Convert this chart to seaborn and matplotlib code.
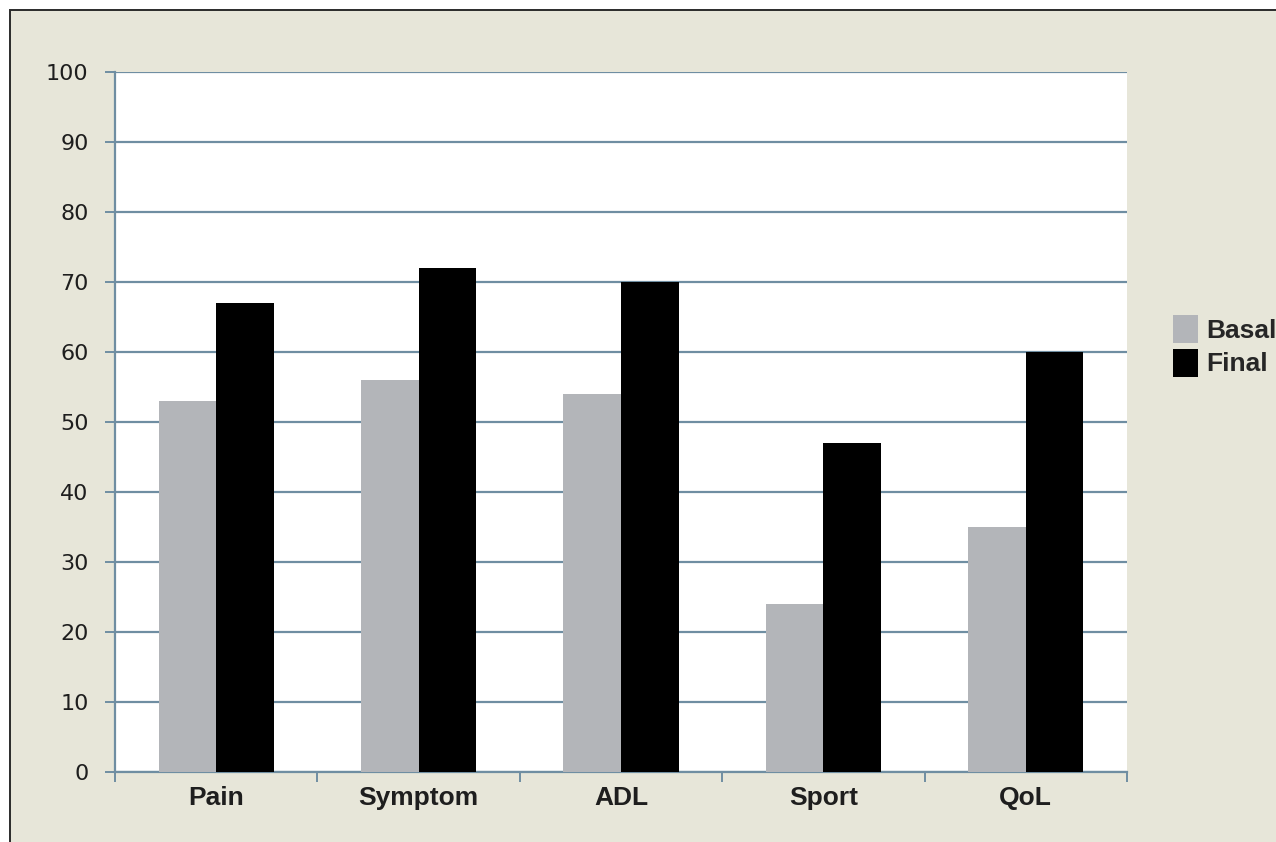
import matplotlib
matplotlib.use("Agg")
import matplotlib.pyplot as plt
import matplotlib.patches as mpatches
import pandas as pd
import seaborn as sns

# values
categories = ['Pain', 'Symptom', 'ADL', 'Sport', 'QoL']
basal = [53, 56, 54, 24, 35]
final = [67, 72, 70, 47, 60]
series = ['Basal', 'Final']
yticks = list(range(0, 101, 10))

df = pd.DataFrame({
    'cat': categories * 2,
    'grp': ['Basal'] * len(categories) + ['Final'] * len(categories),
    'val': basal + final,
})

sns.set_style('white')
plt.rcParams['font.family'] = ['DejaVu Sans']

fig = plt.figure(figsize=(12.76, 8.42), dpi=100, facecolor='white')
W, H = 1276, 842
# beige panel with dark border on left/top (cut off at right/bottom)
fig.add_artist(mpatches.Rectangle((10 / W, -0.05), 1.2, (H - 10) / H + 0.05,
                                  transform=fig.transFigure, facecolor='#e7e6d9',
                                  edgecolor='#2a2a2a', lw=1.4, zorder=0))

ax = fig.add_axes([115 / W, (H - 772) / H, (1127 - 115) / W, (772 - 72) / H])
ax.set_facecolor('white')
ax.set_zorder(2)

pal = {'Basal': '#b3b5b9', 'Final': '#000000'}
sns.barplot(data=df, x='cat', y='val', hue='grp', hue_order=series, palette=pal,
            width=0.57, gap=0, saturation=1, linewidth=0,
            legend=False, ax=ax, zorder=3)

ax.set_ylim(0, 100)
ax.set_xlim(-0.5, len(categories) - 0.5)
ax.set_yticks(yticks)
ax.set_yticklabels([str(t) for t in yticks])
ax.yaxis.grid(True, color='#6f8ea2', lw=1.6, zorder=1)
ax.set_axisbelow(True)
ax.set_xlabel('')
ax.set_ylabel('')

for s in ['top', 'right']:
    ax.spines[s].set_visible(False)
for s in ['left', 'bottom']:
    ax.spines[s].set_color('#6f8ea2')
    ax.spines[s].set_linewidth(1.6)

ax.tick_params(axis='y', left=True, length=7, width=1.4, color='#6f8ea2', pad=12,
               labelsize=16, labelcolor='#1e1e1e')
ax.tick_params(axis='x', which='major', bottom=True, length=0, pad=10)
ax.set_xticks([i - 0.5 for i in range(len(categories) + 1)], minor=True)
ax.tick_params(axis='x', which='minor', bottom=True, length=7, width=1.4,
               color='#6f8ea2', direction='out')
for lab in ax.get_xticklabels():
    lab.set_fontfamily('Liberation Sans')
    lab.set_fontweight('bold')
    lab.set_fontsize(19)
    lab.set_color('#1e1e1e')

handles = [mpatches.Patch(facecolor=pal[s], edgecolor='none') for s in series]
fig.legend(handles, series, loc='center left', bbox_to_anchor=(1173 / W, (H - 346) / H),
           frameon=False, borderpad=0, borderaxespad=0, handlelength=0.95,
           handleheight=1.25, handletextpad=0.3, labelspacing=0.2,
           prop={'family': 'Liberation Sans', 'weight': 'bold', 'size': 19})

fig.savefig('out.png', dpi=100, facecolor=fig.get_facecolor())
